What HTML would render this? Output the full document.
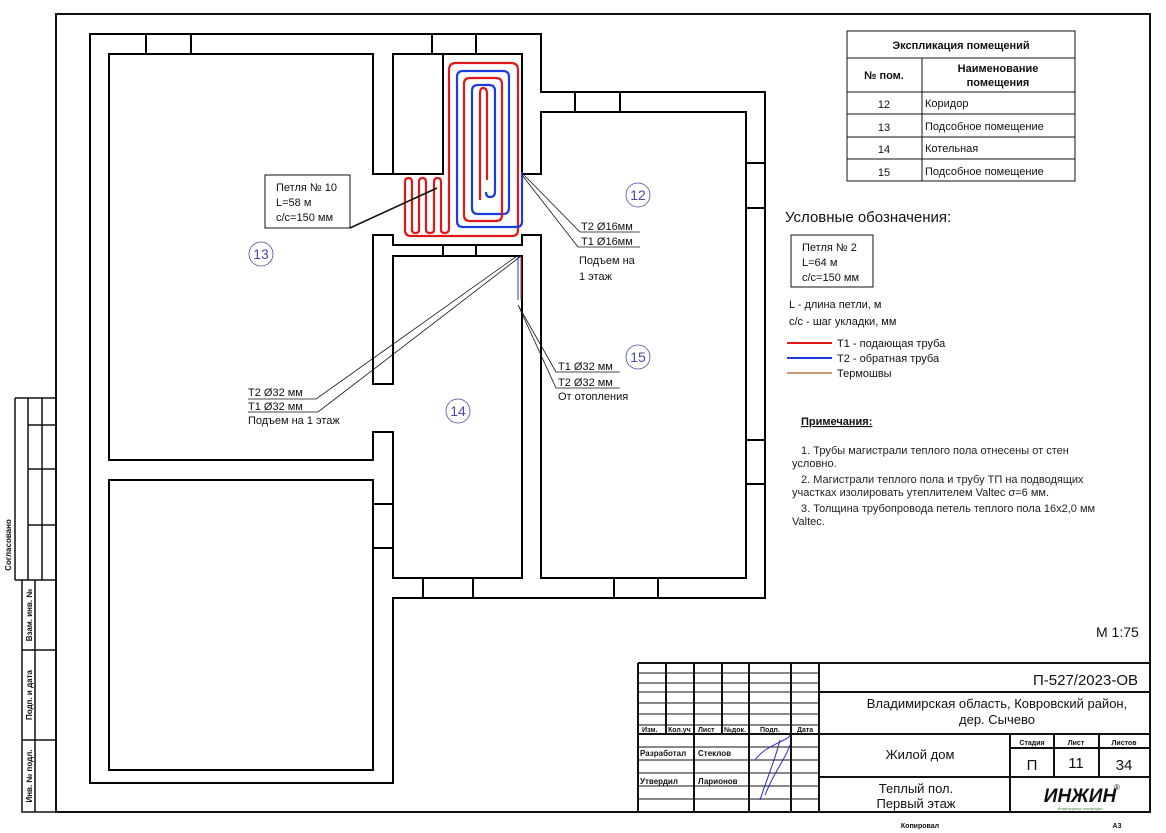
<!DOCTYPE html>
<html><head><meta charset="utf-8"><style>
html,body{margin:0;padding:0;background:#fff;width:1166px;height:833px;overflow:hidden}
svg{display:block}
text{font-family:"Liberation Sans",sans-serif;fill:#111}
.s{font-size:11px}
.n{font-size:11px;fill:#222}
.tb{font-size:8px;font-weight:bold}
.rn{font-size:14px;fill:#4a4aa8}
</style></head><body>
<svg width="1166" height="833" viewBox="0 0 1166 833" xmlns="http://www.w3.org/2000/svg">
<!-- frame -->
<g stroke="#111" fill="none">
<path d="M56,14 H1150 V812 H56 Z" stroke-width="2"/>
<!-- left stamp -->
<path d="M15,398 H56 M15,398 V580 M28,398 V580 M42,398 V580 M28,425 H56 M28,469 H56 M28,525 H56 M15,580 H56" stroke-width="1.5"/>
<path d="M22,580 V812 H56 M35,580 V812 M22,650 H56 M22,740 H56" stroke-width="1.5"/>
</g>
<text transform="translate(11,545) rotate(-90)" text-anchor="middle" class="tb">Согласовано</text>
<text transform="translate(32,615) rotate(-90)" text-anchor="middle" class="tb">Взам. инв. №</text>
<text transform="translate(32,695) rotate(-90)" text-anchor="middle" class="tb">Подп. и дата</text>
<text transform="translate(32,776) rotate(-90)" text-anchor="middle" class="tb">Инв. № подл.</text>

<!-- building -->
<g stroke="#000" stroke-width="2" fill="none">
<path d="M90,34 H541 V92 H765 V598 H393 V783 H90 Z"/>
<path d="M373,174 V54 H109 V460 H373 V432 H393 V578 H522 V256 H393 V384 H373 V235 H393 V245 H522 V235 H541 V578 H746 V112 H541 V174 H522 V54 H443 V174 Z"/>
<path d="M393,174 V54 H443"/>
<path d="M109,480 H373 V770 H109 Z"/>
<path d="M146,34 V54 M191,34 V54 M432,34 V54 M476,34 V54 M575,92 V112 M620,92 V112 M746,163 H765 M746,208 H765 M746,440 H765 M746,484 H765 M423,578 V598 M473,578 V598 M614,578 V598 M658,578 V598 M373,504 H393 M373,548 H393 M443,245 V256 M476,245 V256"/>
</g>

<!-- pipes -->
<g fill="none" stroke-width="2.2" stroke-linejoin="round">
<path stroke="#e01818" d="M518,174 V230 Q518,236 512,236 H411 Q405,236 405,230 V182 Q405,178 408.5,178 Q412,178 412,182 V230 Q412,233 415.5,233 Q419,233 419,230 V182 Q419,178 422.5,178 Q426,178 426,182 V230 Q426,233 430,233 Q434,233 434,230 V182 Q434,178 437.5,178 Q441,178 441,182 V230 Q441,233 445,233 Q449,233 449,228 V70 Q449,63 456,63 H511 Q518,63 518,70 V174"/>
<path stroke="#1a3de0" d="M522,172 V222 Q522,227 516,227 H463 Q457,227 457,221 V77 Q457,71 463,71 H503 Q509,71 509,77 V208 Q509,214 503,214 H478 Q472,214 472,208 V91 Q472,85 478,85 H489 Q495,85 495,91 V192 Q495,197 490,197 Q486,197 486,192"/>
<path stroke="#e01818" d="M464,200 V84 Q464,78 470,78 H496 Q502,78 502,84 V215 Q502,221 496,221 H470 Q464,221 464,215 Z M480,200 V94 Q480,88 483,88 Q487,88 487,94 V180"/>
<path stroke="#1a3de0" stroke-width="1" d="M518,256 V300"/>
<path stroke="#c0392b" stroke-width="1" d="M521,256 V300"/>
</g>

<!-- leaders -->
<g stroke="#111" fill="none" stroke-width="0.8">
<path d="M350,228 L437,188" stroke-width="1.6"/>
<path d="M522,173 L580,232 H640 M522,175 L578,247 H640"/>
<path d="M517,256 L316,399 H248 M521,256 L318,412 H248"/>
<path d="M518,305 L556,372 H620 M519,307 L556,388 H620"/>
</g>
<rect x="265" y="175" width="85" height="53" fill="#fff" stroke="#111" stroke-width="1"/>
<text x="276" y="191" class="s">Петля № 10</text>
<text x="276" y="206" class="s">L=58 м</text>
<text x="276" y="221" class="s">с/с=150 мм</text>
<text x="581" y="230" class="s">Т2 Ø16мм</text>
<text x="581" y="245" class="s">Т1 Ø16мм</text>
<text x="579" y="264" class="s">Подъем на</text>
<text x="579" y="280" class="s">1 этаж</text>
<text x="248" y="396" class="s">Т2 Ø32 мм</text>
<text x="248" y="410" class="s">Т1 Ø32 мм</text>
<text x="248" y="424" class="s">Подъем на 1 этаж</text>
<text x="558" y="370" class="s">Т1 Ø32 мм</text>
<text x="558" y="386" class="s">Т2 Ø32 мм</text>
<text x="558" y="400" class="s">От отопления</text>

<!-- room numbers -->
<g fill="none" stroke="#4a4aa8" stroke-width="0.8">
<ellipse cx="638" cy="195" rx="12" ry="12"/>
<ellipse cx="261" cy="254" rx="12" ry="12"/>
<ellipse cx="458" cy="411" rx="12" ry="12"/>
<ellipse cx="638" cy="357" rx="12" ry="12"/>
</g>
<text x="638" y="200" text-anchor="middle" class="rn">12</text>
<text x="261" y="259" text-anchor="middle" class="rn">13</text>
<text x="458" y="416" text-anchor="middle" class="rn">14</text>
<text x="638" y="362" text-anchor="middle" class="rn">15</text>

<!-- explication table -->
<g stroke="#111" fill="none" stroke-width="1">
<rect x="847" y="31" width="228" height="150"/>
<path d="M847,58 H1075 M847,92 H1075 M847,114 H1075 M847,137 H1075 M847,159 H1075 M922,58 V181"/>
</g>
<text x="961" y="49" text-anchor="middle" style="font-size:11px;font-weight:bold">Экспликация помещений</text>
<text x="884" y="79" text-anchor="middle" style="font-size:11px;font-weight:bold">№ пом.</text>
<text x="998" y="72" text-anchor="middle" style="font-size:11px;font-weight:bold">Наименование</text>
<text x="998" y="86" text-anchor="middle" style="font-size:11px;font-weight:bold">помещения</text>
<text x="884" y="108" text-anchor="middle" class="s">12</text><text x="925" y="107" class="s">Коридор</text>
<text x="884" y="131" text-anchor="middle" class="s">13</text><text x="925" y="130" class="s">Подсобное помещение</text>
<text x="884" y="153" text-anchor="middle" class="s">14</text><text x="925" y="152" class="s">Котельная</text>
<text x="884" y="176" text-anchor="middle" class="s">15</text><text x="925" y="175" class="s">Подсобное помещение</text>

<!-- legend -->
<text x="785" y="222" style="font-size:15px">Условные обозначения:</text>
<rect x="791" y="235" width="82" height="52" fill="none" stroke="#111"/>
<text x="802" y="251" class="s">Петля № 2</text>
<text x="802" y="266" class="s">L=64 м</text>
<text x="802" y="281" class="s">с/с=150 мм</text>
<text x="789" y="308" class="s">L - длина петли, м</text>
<text x="789" y="325" class="s">с/с - шаг укладки, мм</text>
<path d="M787,343 H832" stroke="#e01818" stroke-width="2"/>
<path d="M787,358 H832" stroke="#1a3de0" stroke-width="2"/>
<path d="M787,373 H832" stroke="#b05a20" stroke-width="1.2"/>
<text x="837" y="347" class="s">Т1 - подающая труба</text>
<text x="837" y="362" class="s">Т2 - обратная труба</text>
<text x="837" y="377" class="s">Термошвы</text>

<text x="801" y="425" style="font-size:11px;font-weight:bold;text-decoration:underline">Примечания:</text>
<text x="801" y="454" class="n">1.    Трубы магистрали теплого пола отнесены от стен</text>
<text x="792" y="467" class="n">условно.</text>
<text x="801" y="483" class="n">2.    Магистрали теплого пола и трубу ТП на подводящих</text>
<text x="792" y="496" class="n">участках изолировать утеплителем Valtec σ=6 мм.</text>
<text x="801" y="512" class="n">3.    Толщина трубопровода петель теплого пола 16х2,0 мм</text>
<text x="792" y="525" class="n">Valtec.</text>

<text x="1096" y="637" style="font-size:14px">М 1:75</text>

<!-- title block -->
<g stroke="#111" fill="none">
<path d="M638,663 H1150 M638,663 V812 M819,663 V812 M819,692 H1150 M819,734 H1150 M819,777 H1150 M1010,734 V812 M1054,734 V777 M1099,734 V777 M1010,748 H1150 M638,734 H819 M666,663 V734 M694,663 V812 M722,663 V734 M749,663 V812 M791,663 V812" stroke-width="2"/>
<path d="M638,673 H819 M638,683 H819 M638,692 H819 M638,703 H819 M638,714 H819 M638,725 H819 M638,747 H819 M638,760 H819 M638,773 H819 M638,786 H819 M638,799 H819" stroke-width="1"/>
</g>
<g class="tb" style="font-size:7px;font-weight:bold">
<text x="642" y="732" style="font-size:7px;font-weight:bold">Изм.</text>
<text x="668" y="732" style="font-size:7px;font-weight:bold">Кол.уч</text>
<text x="698" y="732" style="font-size:7px;font-weight:bold">Лист</text>
<text x="724" y="732" style="font-size:7px;font-weight:bold">№док.</text>
<text x="760" y="732" style="font-size:7px;font-weight:bold">Подп.</text>
<text x="797" y="732" style="font-size:7px;font-weight:bold">Дата</text>
</g>
<text x="640" y="756" style="font-size:8px;font-weight:bold">Разработал</text>
<text x="698" y="756" style="font-size:8px;font-weight:bold">Стеклов</text>
<text x="640" y="784" style="font-size:8px;font-weight:bold">Утвердил</text>
<text x="698" y="784" style="font-size:8px;font-weight:bold">Ларионов</text>
<path d="M760,800 C770,770 775,760 780,740 M755,760 C765,745 790,740 790,735 M765,795 C775,770 785,760 790,745" stroke="#2a2ad0" fill="none" stroke-width="1"/>
<text x="1138" y="685" text-anchor="end" style="font-size:15px">П-527/2023-ОВ</text>
<text x="997" y="708" text-anchor="middle" style="font-size:13px">Владимирская область, Ковровский район,</text>
<text x="997" y="724" text-anchor="middle" style="font-size:13px">дер. Сычево</text>
<text x="920" y="759" text-anchor="middle" style="font-size:13px">Жилой дом</text>
<text x="916" y="793" text-anchor="middle" style="font-size:13px">Теплый пол.</text>
<text x="916" y="808" text-anchor="middle" style="font-size:13px">Первый этаж</text>
<text x="1032" y="745" text-anchor="middle" style="font-size:7px;font-weight:bold">Стадия</text>
<text x="1076" y="745" text-anchor="middle" style="font-size:7px;font-weight:bold">Лист</text>
<text x="1124" y="745" text-anchor="middle" style="font-size:7px;font-weight:bold">Листов</text>
<text x="1032" y="770" text-anchor="middle" style="font-size:15px">П</text>
<text x="1076" y="768" text-anchor="middle" style="font-size:15px">11</text>
<text x="1124" y="770" text-anchor="middle" style="font-size:15px">34</text>
<text x="1080" y="802" text-anchor="middle" style="font-size:19px;font-weight:bold;font-style:italic">ИНЖИН</text>
<text x="1114" y="790" style="font-size:8px">®</text>
<text x="1080" y="810" text-anchor="middle" style="font-size:4px;fill:#3a8a3a">Инженерные инновации</text>
<text x="920" y="828" text-anchor="middle" style="font-size:7px;font-weight:bold">Копировал</text>
<text x="1117" y="828" text-anchor="middle" style="font-size:7px;font-weight:bold">А3</text>
</svg>
</body></html>
